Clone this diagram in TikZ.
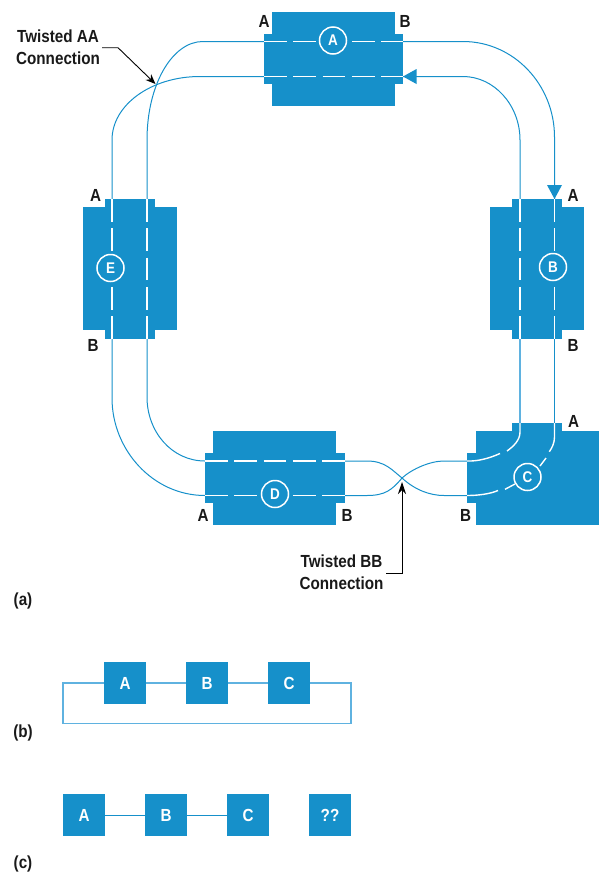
\documentclass[tikz,border=0pt]{standalone}
\usepackage{fontspec}
\setmainfont[FakeStretch=0.87]{Liberation Sans}
\usetikzlibrary{arrows.meta}
\definecolor{hpblue}{HTML}{1690CA}
\definecolor{hplight}{HTML}{5FB2E0}
\tikzset{
  body/.style={fill=hpblue,draw=none,inner sep=0pt,outer sep=0pt,rectangle},
  wire/.style={draw=hpblue,line width=1pt},
  lightwire/.style={draw=hplight,line width=1.2pt},
  whitedash/.style={draw=white,line width=1.4pt,dash pattern=on 22.7pt off 6.6pt},
  whitecurve/.style={draw=white,line width=1.4pt},
  tag/.style={font=\bfseries\fontsize{17.5}{21.7}\selectfont,text=black!90,inner sep=0pt},
  calloutline/.style={draw=black,line width=0.9pt},
  badge/.style={circle,draw=white,line width=1.5pt,fill=hpblue,minimum size=27pt,inner sep=0pt,text=white,font=\bfseries\fontsize{15.5}{15.5}\selectfont},
  sbox/.style={body,minimum size=42pt,text=white,font=\bfseries\fontsize{17.5}{17.5}\selectfont},
  head/.style={fill=hpblue,draw=none}
}
\newcommand{\stbody}[5]{%
  \node[body,minimum width=#4pt,minimum height=#5pt] (#1) at (#2,#3) {};
}
\begin{document}
\begin{tikzpicture}[x=1pt,y=-1pt]
\useasboundingbox (0,0) rectangle (599,873);
% station bodies
\stbody{awide}{333.5}{59}{123}{94}
\stbody{aport}{333.5}{59}{139}{50}
\stbody{ewide}{130}{268.5}{94}{123}
\stbody{eport}{130}{269}{50}{140}
\stbody{bwide}{537}{268.5}{94}{123}
\stbody{bport}{537}{269}{50}{140}
\stbody{dwide}{274.5}{478}{123}{94}
\stbody{dport}{275}{478}{140}{50}
\stbody{cwide}{537.5}{478}{123}{94}
\stbody{ctop}{537}{435}{50}{24}
\stbody{cleft}{480}{478}{26}{50}
% port coordinates
\coordinate (aLu) at (264,41.5); \coordinate (aRu) at (403,41.5);
\coordinate (aLd) at (264,76.5); \coordinate (aRd) at (403,76.5);
\coordinate (eTl) at (112,199); \coordinate (eBl) at (112,339);
\coordinate (eTr) at (147,199); \coordinate (eBr) at (147,339);
\coordinate (bTl) at (520,199); \coordinate (bBl) at (520,339);
\coordinate (bTr) at (554.5,199); \coordinate (bBr) at (554.5,339);
\coordinate (dLu) at (205,461); \coordinate (dRu) at (345,461);
\coordinate (dLd) at (205,495.5); \coordinate (dRd) at (345,495.5);
\coordinate (cTl) at (520,423); \coordinate (cTr) at (554.5,423);
\coordinate (cLu) at (467,461); \coordinate (cLd) at (467,495.5);
\coordinate (xBB) at (402,478);
% wires
\draw[wire] (aLu) -- (203,41.5) .. controls (172,41.5) and (147,85) .. (147,140) -- (eTr);
\draw[wire] (aLd) -- (200,76.5) .. controls (151,76.5) and (112,105) .. (112,140) -- (eTl);
\draw[wire] (aRu) -- (463,41.5) .. controls (514,41.5) and (554.5,85) .. (554.5,137) -- (bTr);
\draw[wire] (aRd) -- (463,76.5) .. controls (494,76.5) and (520,105) .. (520,140) -- (bTl);
\draw[wire] (eBl) -- (112,398) .. controls (112,450) and (153,495.5) .. (dLd);
\draw[wire] (eBr) -- (147,397) .. controls (147,432) and (172,461) .. (dLu);
\draw[lightwire] (bBl) -- (cTl);
\draw[wire] (bBr) -- (cTr);
\draw[wire] (dRu) -- (367,461) .. controls (385,461) and (392,470) .. (xBB) .. controls (415,490) and (430,495.5) .. (444,495.5) -- (cLd);
\draw[wire] (dRd) -- (367,495.5) .. controls (385,495.5) and (392,490) .. (xBB) .. controls (412,469) and (430,461) .. (444,461) -- (cLu);
% arrowheads
\fill[head] (bTr) -- ++(-7.5,-14) -- ++(15,0) -- cycle;
\fill[head] (aRd) -- ++(13.5,-7.5) -- ++(0,15) -- cycle;
% white dashes
\draw[whitedash] (aLu) -- (aRu);
\draw[whitedash] (aLd) -- (aRd);
\draw[whitedash] (eTl) -- (eBl);
\draw[whitedash] (eTr) -- (eBr);
\draw[whitedash] (bTl) -- (bBl);
\draw[whitedash] (bTr) -- (bBr);
\draw[whitedash] (dLu) -- (dRu);
\draw[whitedash] (dLd) -- (dRd);
\draw[whitecurve] (cTl) -- (520,432) .. controls (520,440) and (514,446) .. (507,451);
\draw[whitecurve] (500,453.5) .. controls (490,458) and (478,461.5) .. (cLu);
\draw[whitecurve] (cTr) -- (554.5,437) .. controls (554.5,443) and (552,448) .. (549.3,451.7);
\draw[whitecurve] (546,458) -- (540,466);
\draw[whitecurve] (515,484) -- (505,489.3);
\draw[whitecurve] (498,490.5) .. controls (490,494) and (478,495.5) .. (cLd);
% badges
\node[badge] (ba) at (333,40.5) {A};
\node[badge] (bb) at (553,267) {B};
\node[badge] (bc) at (527.5,477) {C};
\node[badge] (bd) at (275,494) {D};
\node[badge] (be) at (110.5,268) {E};
% tags
\node[tag] (t1) at (264,21) {A};
\node[tag] (t2) at (405,21) {B};
\node[tag] (t3) at (95.5,195) {A};
\node[tag] (t4) at (573,195) {A};
\node[tag] (t5) at (93,345) {B};
\node[tag] (t6) at (573,345) {B};
\node[tag] (t7) at (203,515) {A};
\node[tag] (t8) at (347,515) {B};
\node[tag] (t9) at (465.5,515) {B};
\node[tag] (t10) at (573.5,421) {A};
% callouts
\node[tag,align=center] (twa) at (58,47) {Twisted AA\\Connection};
\node[tag,align=center] (twb) at (341.5,572.5) {Twisted BB\\Connection};
\coordinate (aacross) at (155.5,84);
\draw[calloutline,-{Stealth[length=10pt,width=8pt]}] (102,47.7) -- (118,47.7) -- (aacross);
\draw[calloutline,-{Stealth[length=12pt,width=8pt]}] (386,573) -- (402,573) -- (402,482);
% panel labels
\node[tag] (pa) at (23,600.5) {(a)};
\node[tag] (pb) at (23,732.5) {(b)};
\node[tag] (pc) at (23,864) {(c)};
% (b)
\node[sbox] (ba1) at (125,683) {A};
\node[sbox] (bb1) at (207,683) {B};
\node[sbox] (bc1) at (289,683) {C};
\coordinate (ll) at (63,723.7); \coordinate (lr) at (351,723.7);
\draw[lightwire] (ba1) -- (bb1);
\draw[lightwire] (bb1) -- (bc1);
\draw[lightwire] (bc1.east) -- (bc1.east -| lr) -- (lr) -- (ll) -- (ba1.west -| ll) -- (ba1.west);
% (c)
\node[sbox] (ca) at (84,815) {A};
\node[sbox] (cb) at (166,815) {B};
\node[sbox] (cc) at (248,815) {C};
\node[sbox] (cq) at (330,815) {??};
\draw[wire] (ca) -- (cb);
\draw[wire] (cb) -- (cc);
\end{tikzpicture}
\end{document}
